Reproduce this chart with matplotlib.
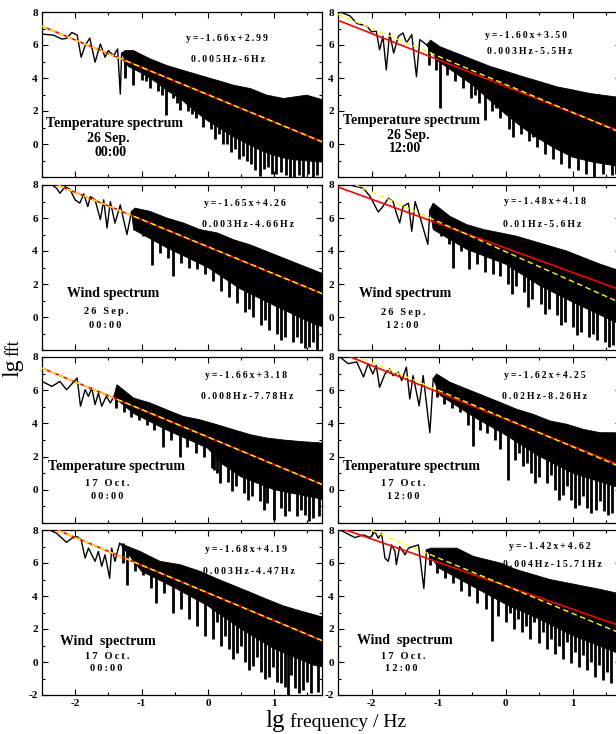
import numpy as np
import matplotlib
matplotlib.use("Agg")
import matplotlib.pyplot as plt
from matplotlib.ticker import MultipleLocator

plt.rcParams["font.family"] = ["Liberation Serif", "DejaVu Serif"]

# Each panel: low-frequency trace (x_low, y_low), top of the dense band (x_up, up),
# solid bottom of the band (x_bd, bd) and the deep downward spikes (x_sp, sp).

# ---- panel 1: temperature, 26 Sep 00:00 ----
p1_x_low = [-2.50, -2.33, -2.20, -2.13, -2.05, -1.97, -1.91, -1.85, -1.78, -1.70, -1.62, -1.55, -1.50, -1.42, -1.36, -1.32, -1.30]
p1_y_low = [6.66, 6.60, 6.36, 6.40, 6.76, 6.60, 5.26, 5.96, 6.42, 4.96, 6.06, 5.26, 5.66, 5.36, 5.76, 3.02, 5.50]
p1_x_up = [-1.30, -1.25, -1.12, -0.87, -0.62, -0.37, -0.12, 0.14, 0.39, 0.64, 0.89, 1.14, 1.49, 1.75]
p1_up = [5.5, 5.66, 5.66, 5.16, 4.76, 4.46, 4.16, 3.86, 3.56, 3.36, 2.96, 2.76, 2.96, 2.66]
p1_x_bd = [-1.30, -1.20, -1.00, -0.80, -0.60, -0.40, -0.20, 0.00, 0.20, 0.40, 0.60, 0.80, 1.00, 1.20, 1.40, 1.75]
p1_bd = [5.5, 4.7, 4.3, 3.8, 3.2, 2.7, 2.0, 1.4, 0.9, 0.4, 0.0, -0.4, -0.7, -0.9, -1.0, -1.1]
p1_x_sp = [-1.25, -1.13, -1.00, -0.94, -0.87, -0.75, -0.69, -0.63, -0.52, -0.47, -0.42, -0.30, -0.24, -0.18,
           -0.08, 0.05, 0.10, 0.17, 0.23, 0.29, 0.35, 0.41, 0.47, 0.53, 0.59, 0.65, 0.71, 0.79, 0.85,
           0.91, 0.97, 1.03, 1.10, 1.17, 1.24, 1.30, 1.37, 1.44, 1.51, 1.58, 1.65]
p1_sp = [4.0, 3.6, 3.9, 3.8, 3.4, 3.2, 3.0, 1.76, 2.8, 2.5, 2.06, 2.0, 1.8, 1.6,
         1.06, 0.9, 0.3, 0.6, 0.0, 0.0, -0.5, -0.3, -0.9, -0.74, -1.0, -1.2, -1.6, -1.94, -1.5,
         -1.4, -1.8, -1.8, -1.7, -1.9, -2.0, -2.0, -1.9, -2.0, -1.8, -2.0, -1.9]

# ---- panel 2: temperature, 26 Sep 12:00 ----
p2_x_low = [-2.50, -2.32, -2.22, -2.07, -2.00, -1.93, -1.88, -1.83, -1.78, -1.73, -1.67, -1.60, -1.53, -1.48, -1.40, -1.33, -1.28, -1.18]
p2_y_low = [8.06, 7.76, 7.31, 7.14, 6.80, 6.84, 5.71, 6.53, 4.49, 6.73, 5.51, 6.53, 6.73, 6.12, 6.63, 4.08, 6.33, 6.02]
p2_x_up = [-1.18, -1.12, -0.98, -0.73, -0.48, -0.23, 0.01, 0.26, 0.51, 0.76, 1.01, 1.26, 1.63, 1.75]
p2_up = [6.0, 6.3, 5.9, 5.5, 5.1, 4.7, 4.4, 4.08, 3.78, 3.47, 3.27, 3.06, 2.86, 2.8]
p2_x_bd = [-1.18, -1.00, -0.75, -0.50, -0.25, 0.00, 0.25, 0.50, 0.75, 1.00, 1.30, 1.60, 1.75]
p2_bd = [6.0, 5.0, 4.3, 3.6, 2.7, 1.8, 1.0, 0.3, -0.3, -0.8, -1.1, -1.3, -1.4]
p2_x_sp = [-1.14, -1.04, -0.98, -0.88, -0.76, -0.64, -0.52, -0.45, -0.40, -0.31, -0.20, -0.14, -0.08, 0.05,
           0.11, 0.23, 0.35, 0.41, 0.47, 0.59, 0.71, 0.83, 0.95, 1.08, 1.20, 1.31, 1.45, 1.58, 1.65]
p2_sp = [4.8, 4.5, 2.2, 4.2, 3.8, 3.4, 2.8, 3.0, 2.5, 1.43, 2.0, 2.2, 1.6, 0.9,
         0.4, 0.6, 0.2, 0.4, -0.2, -0.6, -0.9, -1.2, -1.43, -1.6, -1.8, -2.0, -1.8, -1.9, -1.8]

# ---- panel 3: wind, 26 Sep 00:00 ----
p3_x_low = [-2.38, -2.28, -2.23, -2.15, -2.08, -2.00, -1.93, -1.87, -1.81, -1.77, -1.70, -1.62, -1.57, -1.52, -1.47, -1.40, -1.32, -1.22, -1.15]
p3_y_low = [8.1, 7.8, 7.5, 7.9, 7.74, 7.1, 6.9, 7.46, 6.69, 7.3, 7.1, 5.9, 7.1, 5.4, 6.99, 5.69, 6.79, 5.0, 6.4]
p3_x_up = [-1.15, -1.10, -0.87, -0.62, -0.37, -0.12, 0.14, 0.39, 0.64, 0.89, 1.14, 1.39, 1.75]
p3_up = [6.4, 6.6, 6.4, 6.0, 5.7, 5.3, 5.1, 4.68, 4.37, 3.97, 3.57, 3.17, 2.6]
p3_x_bd = [-1.15, -1.12, -0.62, 0.00, 0.49, 1.00, 1.64, 1.75]
p3_bd = [6.4, 5.3, 4.2, 3.0, 1.7, 0.7, -0.5, -0.6]
p3_x_sp = [-1.10, -0.98, -0.84, -0.72, -0.60, -0.52, -0.40, -0.28, -0.16, -0.04, 0.08, 0.20, 0.32, 0.44,
           0.56, 0.62, 0.68, 0.80, 0.86, 0.92, 1.04, 1.10, 1.16, 1.28, 1.34, 1.40, 1.46, 1.52, 1.58, 1.64]
p3_sp = [5.3, 4.9, 3.17, 3.87, 3.6, 2.46, 3.3, 3.0, 2.9, 2.6, 2.2, 1.6, 1.2, 0.85,
         0.3, 0.5, 0.0, -0.5, -0.2, -0.8, -1.0, -1.4, -1.2, -1.5, -1.2, -1.6, -1.9, -1.8, -1.5, -2.0]

# ---- panel 4: wind, 26 Sep 12:00 ----
p4_x_low = [-2.50, -2.32, -2.12, -2.02, -1.90, -1.83, -1.75, -1.68, -1.63, -1.58, -1.53, -1.45, -1.40, -1.35, -1.28, -1.16, -1.13]
p4_y_low = [8.06, 8.0, 7.8, 7.3, 6.36, 6.7, 7.2, 7.0, 6.3, 5.7, 6.7, 6.9, 5.2, 7.0, 6.1, 4.4, 6.5]
p4_x_up = [-1.13, -1.08, -0.83, -0.58, -0.33, -0.08, 0.16, 0.41, 0.66, 0.91, 1.16, 1.41, 1.63, 1.75]
p4_up = [6.5, 6.9, 6.1, 5.6, 5.3, 5.1, 4.9, 4.6, 4.3, 4.0, 3.6, 3.2, 2.9, 2.8]
p4_x_bd = [-1.13, -1.08, -0.58, 0.00, 0.51, 1.00, 1.63, 1.75]
p4_bd = [6.5, 5.3, 4.1, 3.2, 1.9, 0.9, -0.3, -0.5]
p4_x_sp = [-0.97, -0.85, -0.78, -0.67, -0.55, -0.43, -0.31, -0.19, -0.08, 0.04, 0.10, 0.16, 0.28, 0.34,
           0.40, 0.52, 0.58, 0.64, 0.76, 0.82, 0.88, 1.00, 1.06, 1.12, 1.24, 1.30, 1.36, 1.48, 1.54, 1.60, 1.70]
p4_sp = [4.9, 4.4, 3.0, 4.0, 2.9, 3.2, 2.7, 2.6, 2.5, 2.0, 1.4, 1.9, 1.5, 0.6,
         1.1, 0.8, 0.2, 0.5, 0.1, -0.5, -0.3, -0.6, -1.1, -0.9, -1.2, -1.0, -1.4, -1.5, -1.8, -1.7, -1.6]

# ---- panel 5: temperature, 17 Oct 00:00 ----
p5_x_low = [-2.50, -2.35, -2.23, -2.13, -1.97, -1.92, -1.85, -1.80, -1.75, -1.70, -1.65, -1.60, -1.53, -1.47, -1.42]
p5_y_low = [6.53, 6.23, 6.53, 6.03, 6.73, 5.03, 6.03, 5.63, 6.13, 5.13, 5.83, 5.03, 5.63, 5.23, 5.6]
p5_x_up = [-1.42, -1.37, -1.12, -0.87, -0.62, -0.37, -0.12, 0.14, 0.39, 0.64, 0.89, 1.14, 1.39, 1.75]
p5_up = [5.6, 6.33, 5.53, 5.23, 4.82, 4.42, 4.22, 3.92, 3.62, 3.32, 3.12, 3.0, 2.91, 2.81]
p5_x_bd = [-1.42, -1.12, -0.62, 0.00, 0.20, 0.49, 1.00, 1.64, 1.75]
p5_bd = [5.6, 4.6, 3.6, 2.5, 1.6, 0.8, 0.0, -0.5, -0.6]
p5_x_sp = [-1.38, -1.27, -1.16, -1.04, -0.92, -0.81, -0.67, -0.56, -0.42, -0.32, -0.18, -0.06, 0.06, 0.09,
           0.14, 0.19, 0.30, 0.36, 0.42, 0.54, 0.60, 0.66, 0.78, 0.84, 0.89, 0.99, 1.10, 1.16, 1.22, 1.34,
           1.40, 1.46, 1.52, 1.58, 1.68]
p5_sp = [4.9, 4.7, 4.4, 4.2, 3.9, 3.6, 2.6, 3.0, 2.0, 2.6, 2.2, 2.0, 1.3, 1.2,
         1.0, 0.4, 0.5, -0.1, 0.2, -0.2, -0.6, -0.4, -0.7, -1.2, -0.8, -1.8, -1.1, -1.6, -1.3, -1.6,
         -1.2, -1.5, -1.9, -1.7, -1.6]

# ---- panel 6: temperature, 17 Oct 12:00 ----
p6_x_low = [-2.50, -2.35, -2.22, -2.12, -2.05, -1.98, -1.93, -1.88, -1.80, -1.73, -1.68, -1.60, -1.55, -1.48, -1.43, -1.38, -1.29, -1.23, -1.13, -1.08]
p6_y_low = [8.1, 7.6, 7.7, 6.8, 7.6, 6.98, 7.49, 6.17, 6.98, 7.29, 6.88, 7.09, 6.58, 7.39, 5.47, 6.88, 5.06, 6.88, 3.44, 6.7]
p6_x_up = [-1.08, -1.03, -0.83, -0.58, -0.33, -0.08, 0.16, 0.41, 0.66, 0.91, 1.16, 1.41, 1.63, 1.75]
p6_up = [6.7, 6.98, 6.48, 6.07, 5.67, 5.26, 4.86, 4.55, 4.15, 3.95, 3.64, 3.44, 3.44, 3.3]
p6_x_bd = [-1.08, -0.98, -0.48, 0.00, 0.51, 1.00, 1.63, 1.75]
p6_bd = [6.7, 5.7, 4.4, 3.3, 2.0, 1.0, 0.2, 0.1]
p6_x_sp = [-1.03, -0.92, -0.80, -0.68, -0.56, -0.48, -0.38, -0.28, -0.16, -0.08, 0.04, 0.14, 0.20, 0.26,
           0.32, 0.38, 0.44, 0.50, 0.62, 0.68, 0.74, 0.80, 0.86, 0.92, 0.98, 1.04, 1.10, 1.16, 1.22, 1.28,
           1.34, 1.40, 1.46, 1.52, 1.58, 1.68]
p6_sp = [5.6, 5.16, 4.9, 4.66, 3.9, 2.63, 3.6, 3.44, 3.0, 2.43, 0.6, 1.8, 2.2, 1.42,
         1.6, 1.0, 0.4, 0.8, 0.4, 0.9, 0.0, -0.6, -0.3, 0.2, -0.6, -1.1, -0.9, -0.4, -1.1, -1.4,
         -1.2, -0.7, -1.3, -1.5, -1.4, -1.5]

# ---- panel 7: wind, 17 Oct 00:00 ----
p7_x_low = [-2.38, -2.28, -2.13, -2.05, -1.97, -1.91, -1.85, -1.80, -1.75, -1.70, -1.65, -1.60, -1.55, -1.48, -1.45, -1.40, -1.33]
p7_y_low = [8.0, 7.8, 7.25, 7.5, 7.6, 7.4, 6.3, 6.9, 6.5, 6.1, 6.7, 5.8, 6.5, 5.07, 6.9, 6.1, 7.2]
p7_x_up = [-1.33, -1.02, -0.72, -0.42, -0.12, 0.14, 0.39, 0.64, 0.89, 1.14, 1.39, 1.75]
p7_up = [7.2, 6.7, 6.1, 5.9, 5.5, 5.04, 4.63, 4.22, 3.8, 3.4, 3.1, 2.7]
p7_x_bd = [-1.33, -1.00, -0.50, 0.00, 0.50, 1.00, 1.60, 1.75]
p7_bd = [7.2, 5.5, 4.5, 3.4, 2.0, 0.8, -0.2, -0.3]
p7_x_sp = [-1.28, -1.22, -1.10, -0.98, -0.86, -0.78, -0.66, -0.52, -0.40, -0.28, -0.16, -0.04, 0.08, 0.14,
           0.20, 0.26, 0.32, 0.38, 0.44, 0.50, 0.56, 0.62, 0.68, 0.74, 0.80, 0.86, 0.92, 0.98, 1.04, 1.10,
           1.16, 1.21, 1.26, 1.32, 1.38, 1.44, 1.50, 1.56, 1.66]
p7_sp = [6.0, 4.67, 5.5, 5.3, 4.5, 3.6, 4.2, 3.0, 3.2, 2.6, 2.2, 1.6, 1.4, 2.4,
         0.96, 1.6, 0.8, 0.2, 0.55, 1.0, 0.0, -0.5, -0.27, 0.3, -0.6, -1.0, -0.9, -0.3, -1.2, -1.3,
         -1.5, -2.0, -0.8, -1.6, -1.9, -1.7, -1.2, -1.9, -1.8]

# ---- panel 8: wind, 17 Oct 12:00 ----
p8_x_low = [-2.50, -2.37, -2.25, -2.12, -2.02, -1.95, -1.90, -1.85, -1.80, -1.75, -1.70, -1.65, -1.63, -1.58, -1.50, -1.45, -1.38, -1.30, -1.22, -1.18]
p8_y_low = [8.06, 7.8, 7.54, 7.7, 7.54, 7.9, 7.5, 7.8, 6.3, 6.1, 7.1, 6.7, 5.9, 7.0, 6.5, 6.9, 7.0, 7.1, 4.46, 6.8]
p8_x_up = [-1.18, -1.12, -0.73, -0.48, -0.08, 0.16, 0.41, 0.66, 0.91, 1.16, 1.41, 1.63, 1.75]
p8_up = [6.8, 6.9, 6.9, 6.4, 6.0, 5.6, 5.3, 5.0, 4.8, 4.6, 4.4, 4.2, 4.1]
p8_x_bd = [-1.18, -1.00, -0.50, 0.00, 0.50, 1.00, 1.63, 1.75]
p8_bd = [6.8, 5.7, 4.6, 3.5, 2.6, 1.6, 0.6, 0.4]
p8_x_sp = [-1.13, -1.02, -0.90, -0.78, -0.66, -0.54, -0.42, -0.30, -0.21, -0.11, 0.01, 0.07, 0.13, 0.19,
           0.25, 0.31, 0.37, 0.43, 0.49, 0.55, 0.61, 0.67, 0.73, 0.79, 0.85, 0.91, 0.97, 1.03, 1.09, 1.15,
           1.21, 1.27, 1.33, 1.39, 1.45, 1.51, 1.57, 1.68]
p8_sp = [5.9, 5.4, 5.1, 4.8, 4.3, 4.0, 3.6, 3.2, 1.27, 2.8, 2.4, 3.0, 2.0, 2.6,
         1.8, 2.2, 1.4, 2.4, 1.16, 1.8, 0.8, 1.4, 0.5, 1.0, 0.2, 1.2, -0.06, 0.6, -0.3, 0.4,
         -0.47, 0.0, -0.88, -0.2, -1.1, -0.6, -1.3, -1.5]

# fitted lines: red = labelled fit, yellow dashed = second fit
red_fit = [(-1.66, 2.99), (-1.60, 3.50), (-1.65, 4.26), (-1.48, 4.18),
           (-1.66, 3.18), (-1.62, 4.25), (-1.68, 4.19), (-1.42, 4.62)]
yellow_fit = [(-1.66, 2.99), (-1.70, 3.61), (-1.65, 4.26), (-1.81, 3.96),
              (-1.66, 3.18), (-1.70, 4.29), (-1.68, 4.19), (-1.68, 4.62)]

equations = ["y=-1.66x+2.99", "y=-1.60x+3.50", "y=-1.65x+4.26", "y=-1.48x+4.18",
             "y=-1.66x+3.18", "y=-1.62x+4.25", "y=-1.68x+4.19", "y=-1.42x+4.62"]
ranges = ["0.005Hz-6Hz", "0.003Hz-5.5Hz", "0.003Hz-4.66Hz", "0.01Hz-5.6Hz",
          "0.008Hz-7.78Hz", "0.02Hz-8.26Hz", "0.003Hz-4.47Hz", "0.004Hz-15.71Hz"]
titles = ["Temperature spectrum", "Temperature spectrum", "Wind spectrum", "Wind spectrum",
          "Temperature spectrum", "Temperature spectrum", "Wind  spectrum", "Wind  spectrum"]
dates = ["26 Sep.", "26 Sep.", "26 Sep.", "26 Sep.", "17 Oct.", "17 Oct.", "17 Oct.", "17 Oct."]
times = ["00:00", "12:00", "00:00", "12:00", "00:00", "12:00", "00:00", "12:00"]

panels = [
    (p1_x_low, p1_y_low, p1_x_up, p1_up, p1_x_bd, p1_bd, p1_x_sp, p1_sp),
    (p2_x_low, p2_y_low, p2_x_up, p2_up, p2_x_bd, p2_bd, p2_x_sp, p2_sp),
    (p3_x_low, p3_y_low, p3_x_up, p3_up, p3_x_bd, p3_bd, p3_x_sp, p3_sp),
    (p4_x_low, p4_y_low, p4_x_up, p4_up, p4_x_bd, p4_bd, p4_x_sp, p4_sp),
    (p5_x_low, p5_y_low, p5_x_up, p5_up, p5_x_bd, p5_bd, p5_x_sp, p5_sp),
    (p6_x_low, p6_y_low, p6_x_up, p6_up, p6_x_bd, p6_bd, p6_x_sp, p6_sp),
    (p7_x_low, p7_y_low, p7_x_up, p7_up, p7_x_bd, p7_bd, p7_x_sp, p7_sp),
    (p8_x_low, p8_y_low, p8_x_up, p8_up, p8_x_bd, p8_bd, p8_x_sp, p8_sp),
]

# text positions in data units (eq, range, title, date, time)
text_pos = [
    [(0.29, 6.4), (0.30, 5.1), (-1.40, 1.27), (-1.50, 0.36), (-1.47, -0.5)],
    [(0.31, 6.6), (0.36, 5.6), (-1.40, 1.40), (-1.45, 0.50), (-1.50, -0.3)],
    [(0.56, 6.9), (0.60, 5.6), (-1.43, 1.45), (-1.53, 0.36), (-1.55, -0.5)],
    [(0.58, 6.97), (0.54, 5.6), (-1.50, 1.45), (-1.52, 0.30), (-1.54, -0.5)],
    [(0.57, 6.9), (0.60, 5.6), (-1.38, 1.40), (-1.52, 0.40), (-1.52, -0.4)],
    [(0.58, 6.9), (0.58, 5.6), (-1.40, 1.40), (-1.52, 0.40), (-1.52, -0.4)],
    [(0.57, 6.83), (0.62, 5.5), (-1.50, 1.27), (-1.52, 0.36), (-1.54, -0.4)],
    [(0.66, 7.03), (0.70, 5.88), (-1.50, 1.30), (-1.53, 0.36), (-1.55, -0.4)],
]


def spaced(s):
    return "\u2009".join(s)


fig = plt.figure(figsize=(6.16, 7.34), dpi=100)
W, H = 616, 734
rows_px = [(12, 177), (185, 350), (357, 523), (530, 695)]
cols_px = [(42, 322), (338, 621)]

for i, (xl, yl, xu, up, xb, bd, xs, sp) in enumerate(panels):
    r, c = divmod(i, 2)
    top, bot = rows_px[r]
    left, right = cols_px[c]
    ax = fig.add_axes([left / W, 1 - bot / H, (right - left) / W, (bot - top) / H])

    # spectrum: low-frequency trace, dense band and its downward spikes
    ax.plot(xl, yl, color="black", lw=1.0, zorder=2)
    ax.fill(np.r_[xu, xb[::-1]], np.r_[up, bd[::-1]], color="black", lw=0.6, zorder=2)
    base = np.interp(xs, xb, bd) + 0.3
    ax.vlines(xs, sp, base, color="black", lw=2.0, zorder=2)

    xf = np.array([-2.5, 1.75])
    a, b = red_fit[i]
    ax.plot(xf, a * xf + b, color="red", lw=1.2, zorder=3)
    a, b = yellow_fit[i]
    ax.plot(xf, a * xf + b, color="yellow", lw=1.0, ls="--", dashes=(4, 2.5), zorder=4)

    ax.set_xlim(-2.5, 1.72)
    ax.set_ylim(-2, 8)
    ax.xaxis.set_major_locator(MultipleLocator(1))
    ax.xaxis.set_minor_locator(MultipleLocator(0.5))
    ax.yaxis.set_major_locator(MultipleLocator(2))
    ax.yaxis.set_minor_locator(MultipleLocator(1))
    ax.tick_params(which="both", direction="in", top=True, right=True, width=0.8)
    ax.tick_params(which="major", length=4, pad=3)
    ax.tick_params(which="minor", length=2)

    ax.set_yticks([-2, 0, 2, 4, 6, 8])
    ax.set_xticks([-2, -1, 0, 1])
    if r == 3:
        ax.set_yticklabels(["-2", "0", "2", "4", "6", "8"], fontsize=8, fontweight="bold")
        ax.set_xticklabels(["-2", "-1", "0", "1"], fontsize=8, fontweight="bold")
    else:
        ax.set_yticklabels(["", "0", "2", "4", "6", "8"], fontsize=8, fontweight="bold")
        ax.set_xticklabels([])
    for s in ax.spines.values():
        s.set_linewidth(0.9)

    pe, pr, pt, pd, ptm = text_pos[i]
    ax.text(*pe, spaced(equations[i]), fontsize=7, fontweight="bold", ha="center", va="center")
    ax.text(*pr, spaced(ranges[i]), fontsize=7, fontweight="bold", ha="center", va="center")
    ax.text(*pt, titles[i], fontsize=10, fontweight="bold", ha="center", va="center")
    if r == 0:
        ax.text(*pd, dates[i], fontsize=10, fontweight="bold", ha="center", va="center")
        ax.text(*ptm, times[i], fontsize=10, fontweight="bold", ha="center", va="center")
    else:
        ax.text(*pd, spaced(dates[i]), fontsize=7.5, fontweight="bold", ha="center", va="center")
        ax.text(*ptm, spaced(times[i]), fontsize=7.5, fontweight="bold", ha="center", va="center")

# axis labels: big "lg" followed by smaller text
fig.text(18.5 / W, 1 - 377 / H, "lg", fontsize=17, rotation=90, rotation_mode="anchor",
         ha="left", va="baseline")
fig.text(18.5 / W, 1 - 356 / H, "fft", fontsize=13, rotation=90, rotation_mode="anchor",
         ha="left", va="baseline")
fig.text(265 / W, 1 - 727 / H, "lg", fontsize=18, ha="left", va="baseline")
fig.text(290 / W, 1 - 727 / H, "frequency / Hz", fontsize=14, ha="left", va="baseline")

fig.savefig("out.png", dpi=100)
